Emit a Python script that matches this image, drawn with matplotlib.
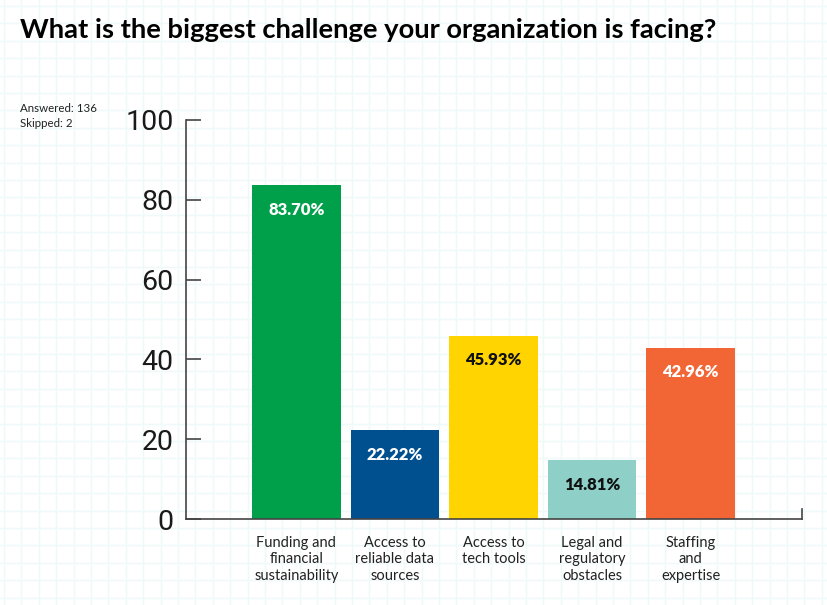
import numpy as np
import matplotlib.pyplot as plt

categories = ["Funding and\nfinancial\nsustainability",
              "Access to\nreliable data\nsources",
              "Access to\ntech tools",
              "Legal and\nregulatory\nobstacles",
              "Staffing\nand\nexpertise"]
values = [83.70, 22.22, 45.93, 14.81, 42.96]
labels = ["83.70%", "22.22%", "45.93%", "14.81%", "42.96%"]
colors = ["#00A04B", "#004F8F", "#FFD400", "#8ED0C7", "#F26535"]
label_colors = ["white", "white", "#111111", "#111111", "white"]
yticks = [0, 20, 40, 60, 80, 100]

plt.rcParams['font.family'] = ['Lato', 'DejaVu Sans']

W, H = 827, 605
fig = plt.figure(figsize=(W/100, H/100), dpi=100)
fig.patch.set_facecolor("white")

# faint graph-paper background
bg = fig.add_axes([0, 0, 1, 1], zorder=-10)
bg.set_xlim(0, W)
bg.set_ylim(H, 0)
bg.axis("off")
for gx in np.arange(4, W, 17.4):
    bg.axvline(gx, color="#EEF9F9", lw=1.0)
for gy in np.arange(6, H, 17.4):
    bg.axhline(gy, color="#EEF9F9", lw=1.0)

ax = fig.add_axes([186/W, 1-519/H, (802-186)/W, (519-120)/H])
ax.patch.set_alpha(0)
x = np.arange(len(values))
bars = ax.bar(x, values, width=0.9, color=colors)
ax.set_xlim(-1.12, 5.13)
ax.set_ylim(0, 100)

for i, (v, lab) in enumerate(zip(values, labels)):
    ax.text(i, v - 6.2, lab, ha="center", va="center", fontsize=12,
            fontweight="heavy", color=label_colors[i])

ax.set_yticks(yticks)
ax.set_yticklabels([str(t) for t in yticks], fontsize=20.5, fontweight="normal",
                   family=["Roboto", "Lato"], color="#1A1A1A")
ax.tick_params(axis="y", direction="in", length=11, width=1.2,
               color="#444444", pad=9)
ax.set_xticks(x)
ax.set_xticklabels(categories, fontsize=10.5, color="#222222", linespacing=1.25)
ax.tick_params(axis="x", length=0, pad=12)

for s in ["top", "right"]:
    ax.spines[s].set_visible(False)
for s in ["left", "bottom"]:
    ax.spines[s].set_color("#444444")
    ax.spines[s].set_linewidth(1.2)
ax.plot([5.13, 5.13], [0, 2.5], color="#444444", lw=1.2, clip_on=False)

fig.text(20/W, 1-30/H, "What is the biggest challenge your organization is facing?",
         fontsize=19.7, fontweight="bold", color="black", va="center", ha="left")
fig.text(20/W, 1-116/H, "Answered: 136\nSkipped: 2", fontsize=8.3,
         color="#222222", va="center", ha="left", linespacing=1.45)

fig.savefig("out.png", dpi=100)
